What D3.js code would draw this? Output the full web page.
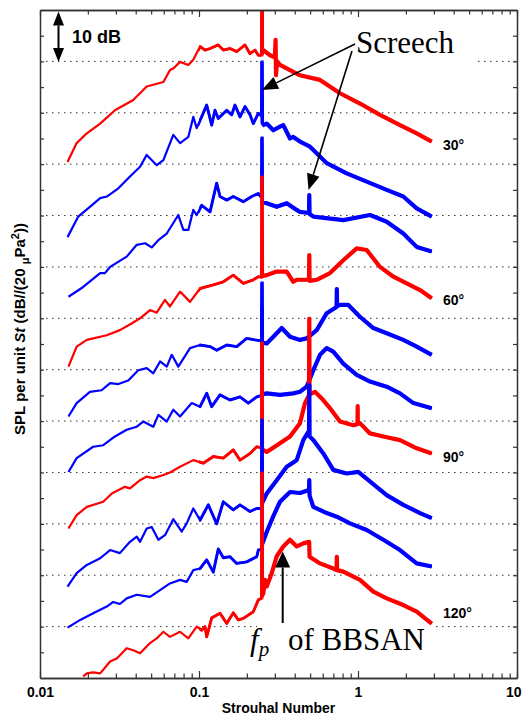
<!DOCTYPE html>
<html><head><meta charset="utf-8">
<script src="https://cdn.jsdelivr.net/npm/d3@7/dist/d3.min.js"></script>
<style>body{margin:0;background:#fff}svg{display:block}</style>
</head><body>
<svg id="c" width="522" height="719"></svg>
<script>
// ---------- data: [Strouhal number, SPL per unit St (dB, arbitrary offset)] ----------
const angles = [30, 40, 50, 60, 70, 80, 90, 100, 110, 120];
const colors = ["red","blue","blue","red","blue","blue","red","blue","blue","red"];
const labeledAngles = [30, 60, 90, 120];
const xTickValues = [0.01, 0.1, 1, 10];
const xTickLabels = ["0.01", "0.1", "1", "10"];
const gridDb = [10,20,30,40,50,60,70,80,90,100,110,120];

const spl30 = [[0.0149,100.4],[0.0170,104.1],[0.0197,106.0],[0.0239,107.9],[0.0296,110.5],[0.0386,112.5],[0.0469,115.1],[0.0597,116.0],[0.0657,118.3],[0.0689,118.6],[0.0760,119.9],[0.0857,119.3],[0.0921,120.3],[0.1015,122.9],[0.1091,122.2],[0.1173,122.5],[0.1322,123.2],[0.1422,122.2],[0.1567,122.5],[0.1726,121.9],[0.1947,123.2],[0.2094,121.5],[0.2250,122.2],[0.2361,121.2],[0.2470,121.2],[0.2480,140],[0.2490,121.5],[0.2538,122.2],[0.2797,121.2],[0.3000,120.8],[0.3030,124.2],[0.3050,117.3],[0.3100,120.0],[0.3231,119.3],[0.4317,117.3],[0.5768,116.4],[0.7706,113.8],[1.029,111.8],[1.375,109.6],[1.837,107.6],[2.340,106.0],[2.908,104.4]];
const spl40 = [[0.0149,85.8],[0.0174,89.8],[0.0206,91.7],[0.0239,93.4],[0.0263,93.7],[0.0311,95.3],[0.0368,97.6],[0.0426,99.5],[0.0469,101.8],[0.0542,99.8],[0.0597,100.8],[0.0689,105.7],[0.0760,104.1],[0.0857,105.3],[0.0921,109.2],[0.0967,107.0],[0.1118,111.5],[0.1202,107.6],[0.1260,110.5],[0.1322,108.9],[0.1494,110.5],[0.1606,109.6],[0.1684,111.5],[0.1811,109.2],[0.1947,111.2],[0.2094,109.6],[0.2195,107.9],[0.2361,109.9],[0.2470,109.4],[0.2480,119.9],[0.2490,108.0],[0.2538,107.6],[0.2666,107.9],[0.2934,106.6],[0.3231,107.3],[0.3390,107.6],[0.3736,105.0],[0.3918,105.3],[0.4317,104.4],[0.4991,103.4],[0.6356,100.2],[0.8491,98.2],[1.134,96.6],[1.515,95.0],[1.927,93.7],[2.340,91.4],[2.908,89.8]];
const spl50 = [[0.0151,74.2],[0.0187,76.1],[0.0239,78.8],[0.0256,78.8],[0.0276,80.0],[0.0351,82.0],[0.0406,84.3],[0.0458,84.6],[0.0504,83.8],[0.0555,85.2],[0.0627,86.5],[0.0741,90.1],[0.0797,87.2],[0.0857,87.2],[0.0921,91.1],[0.0967,90.1],[0.1040,92.0],[0.1173,90.7],[0.1292,96.3],[0.1356,93.7],[0.1494,93.0],[0.1643,93.7],[0.1900,92.7],[0.2145,93.7],[0.2361,94.3],[0.2470,93.5],[0.2480,105.1],[0.2490,92.6],[0.2666,92.4],[0.3081,91.7],[0.3561,92.4],[0.4117,91.1],[0.4317,90.7],[0.4920,90.5],[0.4940,94.0],[0.4960,90.3],[0.5236,89.8],[0.8082,89.1],[1.190,90.1],[1.515,88.8],[1.927,86.5],[2.340,83.9],[2.908,83.0]];
const spl60 = [[0.0151,60.6],[0.0170,64.5],[0.0197,65.8],[0.0263,66.7],[0.0318,67.7],[0.0377,69.0],[0.0426,70.0],[0.0492,71.6],[0.0542,71.1],[0.0611,73.6],[0.0657,72.3],[0.0760,75.2],[0.0878,73.2],[0.1015,75.8],[0.1230,76.5],[0.1422,77.1],[0.1643,78.4],[0.1900,76.8],[0.2195,77.5],[0.2361,78.1],[0.2470,78.0],[0.2480,97.5],[0.2490,78.2],[0.2666,78.4],[0.3081,79.1],[0.3561,79.1],[0.3918,77.1],[0.4117,77.5],[0.4920,77.5],[0.4940,82.3],[0.4960,77.3],[0.5500,77.5],[0.6666,78.8],[0.8082,81.3],[0.9813,83.6],[1.134,83.3],[1.375,80.0],[1.670,78.1],[2.025,76.8],[2.455,75.5],[2.908,73.9]];
const spl70 = [[0.0151,50.9],[0.0170,53.5],[0.0206,55.7],[0.0244,56.0],[0.0276,57.4],[0.0311,57.2],[0.0359,57.9],[0.0415,59.9],[0.0469,60.3],[0.0516,59.3],[0.0569,61.6],[0.0627,60.6],[0.0674,62.9],[0.0741,60.6],[0.0878,64.2],[0.1015,64.8],[0.1173,64.5],[0.1292,63.8],[0.1494,64.8],[0.1726,64.5],[0.1995,66.1],[0.2250,65.8],[0.2470,65.6],[0.2480,76.9],[0.2490,65.3],[0.2666,65.1],[0.2934,66.4],[0.3313,68.1],[0.3736,66.4],[0.4317,65.8],[0.4758,66.1],[0.5500,67.7],[0.6356,71.0],[0.7330,72.2],[0.7360,75.7],[0.7390,72.4],[0.7706,72.6],[0.8690,72.6],[1.029,70.3],[1.248,68.1],[1.515,67.1],[1.927,65.8],[2.340,64.5],[2.908,62.9]];
const spl80 = [[0.0151,40.1],[0.0170,42.8],[0.0216,45.0],[0.0250,45.3],[0.0296,47.0],[0.0351,48.3],[0.0406,48.9],[0.0446,49.9],[0.0516,48.9],[0.0555,51.2],[0.0627,49.9],[0.0689,52.2],[0.0760,50.9],[0.0900,53.5],[0.1015,52.8],[0.1118,55.4],[0.1202,52.8],[0.1356,55.1],[0.1567,54.1],[0.1811,54.7],[0.2042,53.5],[0.2307,54.7],[0.2470,55.0],[0.2480,72.0],[0.2490,55.2],[0.2666,55.4],[0.3231,55.1],[0.3918,55.4],[0.4317,55.7],[0.4758,56.7],[0.5236,59.9],[0.5768,62.9],[0.6356,64.2],[0.6993,63.5],[0.8082,61.2],[0.9813,59.0],[1.190,57.7],[1.515,56.7],[1.837,55.4],[2.231,53.5],[2.908,52.5]];
const spl90 = [[0.0151,29.1],[0.0170,31.7],[0.0197,33.3],[0.0250,34.3],[0.0283,35.9],[0.0342,37.2],[0.0368,36.9],[0.0426,38.5],[0.0469,39.2],[0.0516,38.9],[0.0597,39.5],[0.0657,40.0],[0.0760,41.1],[0.0921,42.4],[0.1064,41.8],[0.1230,43.1],[0.1422,42.8],[0.1643,44.4],[0.1811,42.4],[0.2094,43.7],[0.2307,45.0],[0.2470,44.8],[0.2480,65.2],[0.2490,44.5],[0.2666,44.0],[0.3231,45.7],[0.3736,47.0],[0.4317,49.6],[0.4642,53.5],[0.4920,55.1],[0.4940,69.9],[0.4960,55.2],[0.5366,55.7],[0.5913,54.4],[0.6666,52.5],[0.7706,49.9],[0.9341,49.2],[0.9930,49.4],[0.9950,52.9],[0.9970,49.5],[1.029,49.6],[1.190,47.6],[1.443,47.0],[1.837,46.3],[2.340,44.7],[2.908,43.7]];
const spl100 = [[0.0149,17.8],[0.0170,20.4],[0.0197,22.0],[0.0239,23.3],[0.0276,24.9],[0.0318,24.3],[0.0368,26.5],[0.0406,27.5],[0.0426,26.5],[0.0469,29.1],[0.0504,29.4],[0.0555,26.9],[0.0611,27.8],[0.0689,30.9],[0.0779,28.5],[0.0837,30.1],[0.0921,33.0],[0.1015,30.7],[0.1144,33.7],[0.1292,30.0],[0.1422,34.3],[0.1643,32.7],[0.1811,33.7],[0.2094,32.4],[0.2307,33.0],[0.2470,33.0],[0.2480,50.2],[0.2490,34.0],[0.2666,35.9],[0.3081,38.5],[0.3561,41.1],[0.4117,42.4],[0.4529,46.3],[0.4869,47.9],[0.4920,47.9],[0.4940,57.0],[0.4960,47.0],[0.5236,46.3],[0.6049,43.7],[0.6993,40.5],[0.8491,39.8],[1.004,40.1],[1.515,35.6],[1.927,33.7],[2.455,32.1],[2.908,31.1]];
const spl110 = [[0.0149,9.8],[0.0179,11.3],[0.0216,12.6],[0.0263,13.9],[0.0289,14.8],[0.0318,14.4],[0.0351,15.5],[0.0406,16.2],[0.0492,15.8],[0.0569,17.1],[0.0657,18.4],[0.0760,19.1],[0.0837,18.7],[0.0921,21.0],[0.1015,21.3],[0.1118,23.0],[0.1230,20.6],[0.1322,25.1],[0.1422,23.4],[0.1567,23.6],[0.1726,22.3],[0.1995,22.6],[0.2307,23.6],[0.2361,24.9],[0.2470,25.0],[0.2480,42.4],[0.2490,26.0],[0.2666,28.4],[0.2934,31.5],[0.3231,34.3],[0.3736,36.2],[0.4317,36.0],[0.4920,36.6],[0.4940,38.5],[0.4960,35.5],[0.5236,33.3],[0.6356,32.1],[0.7345,31.4],[0.8907,30.1],[1.134,28.8],[1.443,26.9],[1.837,24.9],[2.340,22.3],[2.908,21.7]];
const spl120 = [[0.0187,0.3],[0.0197,0.9],[0.0216,1.1],[0.0239,0.9],[0.0276,3.2],[0.0304,3.8],[0.0351,5.8],[0.0386,5.4],[0.0426,4.8],[0.0492,6.8],[0.0542,7.7],[0.0597,9.0],[0.0657,8.0],[0.0760,9.0],[0.0857,7.7],[0.0967,10.0],[0.1040,9.3],[0.1091,10.0],[0.1118,8.0],[0.1202,11.7],[0.1356,12.6],[0.1494,10.6],[0.1643,12.7],[0.1767,11.3],[0.1900,11.6],[0.2195,12.9],[0.2361,15.2],[0.2470,15.5],[0.2480,39.9],[0.2490,16.0],[0.2538,16.5],[0.2601,19.1],[0.2666,17.8],[0.2867,20.4],[0.3081,23.7],[0.3390,25.6],[0.3736,26.9],[0.4117,25.6],[0.4529,26.2],[0.4930,26.5],[0.4960,23.6],[0.5768,22.3],[0.6993,21.3],[0.7330,21.0],[0.7360,23.6],[0.7390,21.0],[0.8082,20.7],[1.029,19.1],[1.248,16.8],[1.515,15.5],[1.927,14.2],[2.340,12.9],[2.908,10.6]];
const spectra = [spl30, spl40, spl50, spl60, spl70, spl80, spl90, spl100, spl110, spl120];

// ---------- layout ----------
const L = 40, R = 517, T = 10, B = 678;
const svg = d3.select("#c");
const x = d3.scaleLog().domain([0.01, 10]).range([L, R]);
const y = d3.scaleLinear().domain([0, 130]).range([B, T]);
const AX = "#333";
const SANS = "'Liberation Sans', Arial, sans-serif";
const SERIF = "'Liberation Serif', 'Times New Roman', serif";

const defs = svg.append("defs");
defs.append("clipPath").attr("id","plot").append("rect").attr("x",L).attr("y",T).attr("width",R-L).attr("height",B-T);
defs.append("clipPath").attr("id","mid").append("rect").attr("x",x(0.1)).attr("y",T).attr("width",R-x(0.1)).attr("height",B-T);
defs.append("clipPath").attr("id","hi").append("rect").attr("x",x(0.252)).attr("y",T).attr("width",R-x(0.252)).attr("height",B-T);

// grid
svg.append("g").selectAll("line").data(gridDb).join("line")
  .attr("x1",L).attr("x2",R).attr("y1",d=>y(d)).attr("y2",d=>y(d))
  .attr("stroke","#333").attr("stroke-width",1).attr("stroke-dasharray","1.5,4.5");

// white annotation backgrounds (hide grid under text boxes)
svg.append("rect").attr("x",262).attr("y",20).attr("width",215).attr("height",70).attr("fill","#fff");
svg.append("rect").attr("x",257).attr("y",590).attr("width",176).attr("height",70).attr("fill","#fff");

// curves
const line = d3.line().x(d=>x(d[0])).y(d=>y(d[1]));
const cg = svg.append("g").attr("clip-path","url(#plot)");
spectra.forEach((s,i)=>{
  const g = cg.append("g");
  g.append("path").attr("d",line(s)).attr("fill","none").attr("stroke",colors[i])
    .attr("stroke-width",2.2).attr("stroke-linejoin","round");
  g.append("g").attr("clip-path","url(#mid)").append("path").attr("d",line(s)).attr("fill","none").attr("stroke",colors[i])
    .attr("stroke-width",2.9).attr("stroke-linejoin","round");
  g.append("g").attr("clip-path","url(#hi)").append("path").attr("d",line(s)).attr("fill","none").attr("stroke",colors[i])
    .attr("stroke-width",4.2).attr("stroke-linejoin","round");
});

// axes
const minors = [];
[0.01,0.1,1].forEach(dec=>{ for(let k=2;k<=9;k++) minors.push(dec*k); });
function styleAxis(g){
  g.selectAll("path.domain").attr("stroke",AX).attr("stroke-width",1.5);
  g.selectAll(".tick line").attr("stroke",AX).attr("stroke-width",1.2);
  g.attr("font-family",SANS);
}
const bx = svg.append("g").attr("transform",`translate(0,${B})`)
  .call(d3.axisBottom(x).tickValues(xTickValues).tickSize(-7).tickSizeOuter(0).tickPadding(9)
  .tickFormat((d,i)=>xTickLabels[i])).call(styleAxis);
bx.selectAll("text").attr("font-size",14).attr("font-weight","bold").attr("fill","#000")
  .attr("text-anchor",d=>d===10?"end":"middle").attr("dx",d=>d===10?4:0);
svg.append("g").attr("transform",`translate(0,${B})`)
  .call(d3.axisBottom(x).tickValues(minors).tickSize(-4.5).tickSizeOuter(0).tickFormat("")).call(styleAxis);
svg.append("g").attr("transform",`translate(0,${T})`)
  .call(d3.axisTop(x).tickValues(xTickValues).tickSize(-7).tickSizeOuter(0).tickFormat("")).call(styleAxis);
svg.append("g").attr("transform",`translate(0,${T})`)
  .call(d3.axisTop(x).tickValues(minors).tickSize(-4.5).tickSizeOuter(0).tickFormat("")).call(styleAxis);
svg.append("g").attr("transform",`translate(${L},0)`)
  .call(d3.axisLeft(y).tickValues(d3.range(5,130,5)).tickSize(-4).tickSizeOuter(0).tickFormat("")).call(styleAxis);
svg.append("g").attr("transform",`translate(${R},0)`)
  .call(d3.axisRight(y).tickValues(d3.range(5,130,5)).tickSize(-4).tickSizeOuter(0).tickFormat("")).call(styleAxis);

// axis titles
svg.append("text").attr("x",(L+R)/2).attr("y",713).attr("text-anchor","middle")
  .attr("font-family",SANS).attr("font-weight","bold").attr("font-size",14).text("Strouhal Number");
const yl = svg.append("text").attr("transform","translate(25,329) rotate(-90)").attr("text-anchor","middle")
  .attr("font-family",SANS).attr("font-weight","bold").attr("font-size",15);
yl.append("tspan").text("SPL per unit ");
yl.append("tspan").attr("font-style","italic").text("St");
yl.append("tspan").text(" (dB//(20 ");
yl.append("tspan").attr("font-size",11).attr("dy",4).text("\u03bc");
yl.append("tspan").attr("dy",-4).text("Pa");
yl.append("tspan").attr("font-size",11).attr("dy",-6).text("2");
yl.append("tspan").attr("dy",6).text("))");

// angle labels
const labelDb = [102.8, 72.5, 42.0, 11.6];
svg.append("g").selectAll("text").data(labeledAngles).join("text")
  .attr("x",443).attr("y",(d,i)=>y(labelDb[i]))
  .attr("font-family",SANS).attr("font-weight","bold").attr("font-size",14)
  .text(d=>d+"\u00b0");

// arrows
function arrow(fx,fy,tx,ty,len,hw,sw){
  const dx=tx-fx, dy=ty-fy, d=Math.hypot(dx,dy), ux=dx/d, uy=dy/d;
  const bx=tx-ux*len, by=ty-uy*len, nx=-uy, ny=ux;
  svg.append("line").attr("x1",fx).attr("y1",fy).attr("x2",bx).attr("y2",by).attr("stroke","#000").attr("stroke-width",sw);
  svg.append("path").attr("d",`M${tx},${ty}L${bx+nx*hw},${by+ny*hw}L${bx-nx*hw},${by-ny*hw}Z`).attr("fill","#000");
}
// 10 dB scale bar
arrow(58.5,37,58.5,11.5,14,5.5,2);
arrow(58.5,37,58.5,62,14,5.5,2);
svg.append("text").attr("x",72).attr("y",43).attr("font-family",SANS).attr("font-weight","bold").attr("font-size",18).text("10 dB");

// Screech
svg.append("text").attr("x",356).attr("y",53).attr("font-family",SERIF).attr("font-size",31).text("Screech");
arrow(355,44,262,90,16,6.5,1.6);
arrow(352,51,308.5,190,16,6.5,1.6);

// f_p of BBSAN
const fp = svg.append("text").attr("x",250).attr("y",650).attr("font-family",SERIF).attr("font-size",31);
fp.append("tspan").attr("font-style","italic").text("f");
fp.append("tspan").attr("font-style","italic").attr("font-size",21).attr("dy",6).text("p");
svg.append("text").attr("x",288).attr("y",650).attr("font-family",SERIF).attr("font-size",31).text("of BBSAN");
arrow(282.7,623,282.7,551.5,16,7.5,2);
</script>
</body></html>
